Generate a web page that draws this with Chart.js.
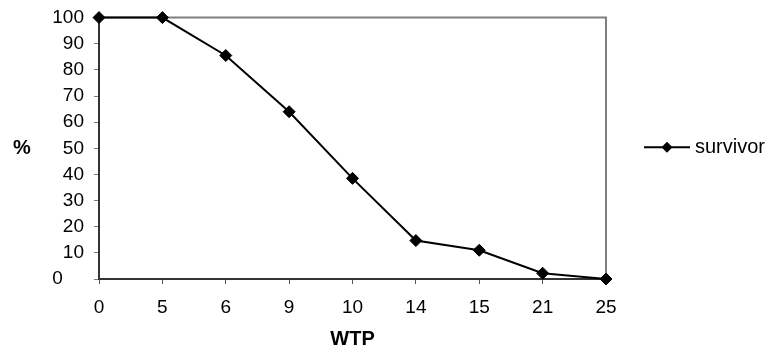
<!DOCTYPE html>
<html>
<head>
<meta charset="utf-8">
<script src="https://cdn.jsdelivr.net/npm/chart.js@4/dist/chart.umd.min.js"></script>
<style>
  html, body { margin: 0; padding: 0; background: #fff; }
  #wrap { width: 767px; height: 351px; position: relative; }
</style>
</head>
<body>
<div id="wrap"><canvas id="c" width="767" height="351"></canvas></div>
<script>
const categories = ['0', '5', '6', '9', '10', '14', '15', '21', '25'];
const survivor = [100, 100, 85.5, 64, 38.5, 14.7, 11, 2.2, 0];
const seriesName = 'survivor';
const xTitle = 'WTP';
const yTitle = '%';

const FONT = '"Liberation Sans", Arial, sans-serif';

const framePlugin = {
  id: 'frame',
  beforeDatasetsDraw(chart) {
    const { ctx, chartArea: a } = chart;
    ctx.save();
    ctx.strokeStyle = '#7f7f7f';
    ctx.lineWidth = 2;
    ctx.beginPath();
    ctx.moveTo(a.left, a.top);
    ctx.lineTo(a.right, a.top);
    ctx.lineTo(a.right, a.bottom);
    ctx.stroke();
    ctx.restore();
  },
  afterDraw(chart) {
    const { ctx, chartArea: a } = chart;
    ctx.save();
    // y title
    ctx.fillStyle = '#000';
    ctx.font = 'bold 20px ' + FONT;
    ctx.textAlign = 'center';
    ctx.textBaseline = 'middle';
    ctx.fillText(yTitle, 22, (a.top + a.bottom) / 2);
    // legend
    const ly = (a.top + a.bottom) / 2 - 1;
    const ds = chart.data.datasets[0];
    ctx.strokeStyle = ds.borderColor;
    ctx.lineWidth = 2;
    ctx.beginPath();
    ctx.moveTo(644, ly);
    ctx.lineTo(690, ly);
    ctx.stroke();
    ctx.fillStyle = ds.pointBackgroundColor;
    ctx.beginPath();
    ctx.moveTo(667, ly - 5.5);
    ctx.lineTo(672.5, ly);
    ctx.lineTo(667, ly + 5.5);
    ctx.lineTo(661.5, ly);
    ctx.closePath();
    ctx.fill();
    ctx.fillStyle = '#000';
    ctx.font = '20px ' + FONT;
    ctx.textAlign = 'left';
    ctx.fillText(ds.label, 695, ly);
    ctx.restore();
  }
};

new Chart(document.getElementById('c'), {
  type: 'line',
  data: {
    labels: categories,
    datasets: [{
      label: seriesName,
      data: survivor,
      borderColor: '#000',
      borderWidth: 2,
      pointStyle: 'rectRot',
      pointRadius: 6,
      pointBackgroundColor: '#000',
      pointBorderColor: '#000',
      pointBorderWidth: 1,
      tension: 0,
      fill: false,
      clip: false
    }]
  },
  options: {
    responsive: false,
    animation: false,
    devicePixelRatio: 1,
    layout: { padding: { left: 0, right: 161, top: 14, bottom: 0 } },
    plugins: {
      legend: { display: false },
      tooltip: { enabled: false }
    },
    scales: {
      x: {
        offset: false,
        grid: { drawOnChartArea: false, drawTicks: true, tickLength: 5, color: '#555', tickColor: '#555' },
        border: { color: '#333', width: 2 },
        ticks: { color: '#000', font: { family: FONT, size: 19 }, padding: 12, maxRotation: 0, autoSkip: false },
        title: { display: true, text: xTitle, color: '#000', font: { family: FONT, size: 20, weight: 'bold' }, padding: { top: 4, bottom: 0 } },
        afterFit(scale) { scale.height = 72; }
      },
      y: {
        min: 0,
        max: 100,
        grid: { drawOnChartArea: false, drawTicks: true, tickLength: 5, tickColor: '#777' },
        border: { color: '#333', width: 2 },
        ticks: {
          stepSize: 10,
          autoSkip: false,
          color: '#000',
          font: { family: FONT, size: 19, lineHeight: 0.8 },
          padding: 10,
          callback: (v) => v === 0 ? '0    ' : String(v)
        },
        afterFit(scale) { scale.width = 99; }
      }
    }
  },
  plugins: [framePlugin]
});
</script>
</body>
</html>
